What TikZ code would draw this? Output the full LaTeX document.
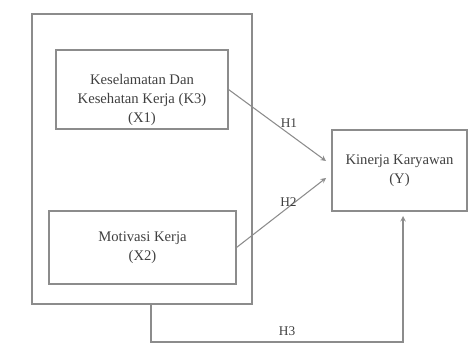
\documentclass[tikz,border=0pt]{standalone}
\usepackage{fontspec}
\setmainfont{Liberation Serif}
\usepackage{xcolor}
\usepackage{tikz}
\usetikzlibrary{positioning}

\begin{document}
\begin{tikzpicture}[x=0.75pt, y=-0.75pt,
        box/.style={draw=black!45, line width=0.8pt, text=black!75, align=center,
            font=\fontsize{11}{14}\selectfont, inner sep=0pt},
        boxtext/.style={text=black!75, align=center, font=\fontsize{11}{14}\selectfont},
        link/.style={draw=black!45, line width=0.8pt, -stealth},
        hlabel/.style={text=black!75, font=\fontsize{10}{12}\selectfont}]

        \useasboundingbox (0,0) rectangle (474,345);

        \node[box, minimum width=165pt, minimum height=217.5pt] (group) at (142,159) {};
        \node[box, minimum width=129pt, minimum height=59.25pt] (X1) at (142,89.5) {};
        \node[boxtext] (X1text) at (142,100)
            {Keselamatan Dan\\Kesehatan Kerja (K3)\\(X1)};
        \node[box, minimum width=140.25pt, minimum height=54.75pt] (X2) at (142.5,247.5)
            {Motivasi Kerja\\(X2)};
        \node[box, minimum width=101.25pt, minimum height=60.75pt] (Y) at (399.5,170.5)
            {Kinerja Karyawan\\(Y)};

        \coordinate (inH1) at (326,161);
        \coordinate (inH2) at (326,178);
        \coordinate (outH3) at (151,304);
        \coordinate (inH3) at (403,216);

        \path
        (X1.east) edge[link] node[hlabel, pos=0.62, above=1pt] {H1} (inH1)
        (X2.east) edge[link] node[hlabel, pos=0.58, above=-3pt] {H2} (inH2);

        \draw[link] (outH3) -- ++(0,38) -| node[hlabel, pos=0.27, above=1pt] {H3} (inH3);

\end{tikzpicture}
\end{document}
